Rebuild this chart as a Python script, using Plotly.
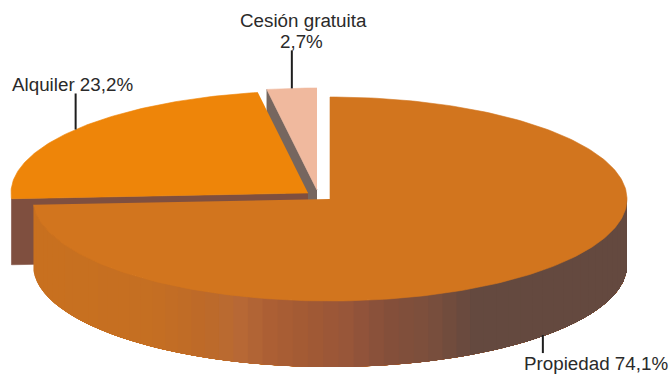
import numpy as np
import plotly.graph_objects as go

categories = ["Propiedad", "Alquiler", "Cesión gratuita"]
values = [74.1, 23.2, 2.7]
value_labels = ["74,1%", "23,2%", "2,7%"]

W, H = 671, 374
RX, RY, DEPTH = 297, 102, 66
centers = [(330, 199), (308, 193), (317, 190)]
top_colors = ["#D2751E", "#EE8509", "#F0B99E"]
cut_colors = ["#7F4F3F", "#7F4F3F", "#76665F"]
# side-wall shading, as (x pixel, colour)
wall_x = [33, 150, 200, 230, 260, 300, 340, 380, 420, 470, 627]
wall_rgb = [(201, 113, 31), (197, 111, 35), (189, 106, 42), (185, 106, 53), (173, 96, 53),
            (163, 90, 52), (152, 86, 58), (133, 80, 58), (124, 79, 61), (100, 73, 63), (100, 73, 63)]

edges = np.concatenate([[0], np.cumsum(values)]) / sum(values) * 2 * np.pi


def pt(c, t, dy=0):
    return c[0] + RX * np.sin(t), c[1] - RY * np.cos(t) + dy


def poly(fig, x, y, color, lw=0.6):
    fig.add_trace(go.Scatter(x=x, y=y, mode="lines", fill="toself", fillcolor=color,
                             line=dict(color=color, width=lw), hoverinfo="skip", showlegend=False))


fig = go.Figure()

# draw back to front: Cesión, Alquiler, Propiedad
c = centers[2]
rx, ry = pt(c, edges[2])
poly(fig, [c[0], rx, rx, c[0]], [c[1], ry, ry + DEPTH, c[1] + DEPTH], cut_colors[2])
x, y = pt(c, np.linspace(edges[2], edges[3], 40))
poly(fig, [c[0], *x], [c[1], *y], top_colors[2])

c = centers[1]
lx, ly = pt(c, edges[1])
poly(fig, [c[0], lx, lx, c[0]], [c[1], ly, ly + DEPTH, c[1] + DEPTH], cut_colors[1])
x, y = pt(c, np.linspace(edges[1], edges[2], 100))
poly(fig, [c[0], *x], [c[1], *y], top_colors[1])

# Propiedad side wall: each band covers everything from its start to the far end,
# so later bands paint over earlier ones and no seams appear
c = centers[0]
a1 = edges[1]
band_starts = np.linspace(a1, np.pi / 2, 61)[:-1]  # left to right
for s0 in band_starts:
    ts = np.linspace(s0, np.pi / 2, 120)
    x, y = pt(c, ts)
    col = "rgb(%d,%d,%d)" % tuple(np.interp(float(x[0]), wall_x, [r[k] for r in wall_rgb]) for k in range(3))
    poly(fig, [*x, *x[::-1]], [*y, *(y[::-1] + DEPTH)], col, lw=0)

x, y = pt(c, np.linspace(edges[0], a1, 240))
poly(fig, [c[0], *x], [c[1], *y], top_colors[0])

# leader lines start at each sector's mid-angle on its outer rim
leader_len = [18, -36, -38]
leader_dy = [DEPTH, 0, 0]
leader_dx = [-3, 0, 0]
for i in range(3):
    mid = (edges[i] + edges[i + 1]) / 2
    xm, ym = pt(centers[i], mid, leader_dy[i])
    xm += leader_dx[i]
    fig.add_trace(go.Scatter(x=[xm, xm], y=[ym, ym + leader_len[i]], mode="lines",
                             line=dict(color="#1E1E1E", width=2), hoverinfo="skip", showlegend=False))

FONT = dict(family="Liberation Sans, Arial, sans-serif", size=18.8, color="#2A2A2A")
fig.add_annotation(x=596, y=363, text=f"{categories[0]} {value_labels[0]}", showarrow=False, font=FONT)
fig.add_annotation(x=72.5, y=84, text=f"{categories[1]} {value_labels[1]}", showarrow=False, font=FONT)
fig.add_annotation(x=303, y=20, text=categories[2], showarrow=False, font=FONT)
fig.add_annotation(x=301.5, y=41, text=value_labels[2], showarrow=False, font=FONT)

fig.update_layout(width=W, height=H, margin=dict(l=0, r=0, t=0, b=0),
                  paper_bgcolor="white", plot_bgcolor="white", showlegend=False,
                  xaxis=dict(range=[0, W], visible=False, fixedrange=True),
                  yaxis=dict(range=[H, 0], visible=False, fixedrange=True))
fig.write_html("out.html", config=dict(displayModeBar=False),
               post_script="document.body.style.margin='0';document.documentElement.style.overflow='hidden';")
